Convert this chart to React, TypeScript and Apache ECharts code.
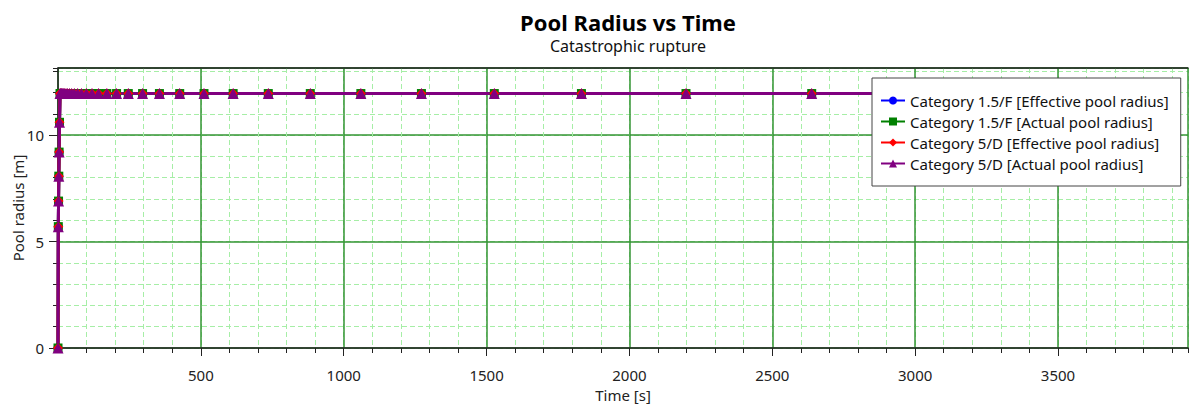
import React, { useEffect, useRef } from "react";
import * as echarts from "echarts";

const FONT = "'Noto Sans', 'Open Sans', sans-serif";

const seriesNames = [
  "Category 1.5/F [Effective pool radius]",
  "Category 1.5/F [Actual pool radius]",
  "Category 5/D [Effective pool radius]",
  "Category 5/D [Actual pool radius]",
];
const seriesColors = ["#0000ff", "#008000", "#ff0000", "#800080"];
const seriesSymbols = ["circle", "rect", "diamond", "triangle"];
const seriesSymbolSizes = [9, 9, 10, 11];

const timeS = [
  0, 1.1, 1.9, 2.8, 3.9, 5.3, 7, 9, 11, 13, 16, 19, 23, 28, 33, 40, 48, 57, 69, 82, 99, 119, 142,
  171, 205, 246, 296, 355, 426, 511, 613, 736, 883, 1060, 1272, 1527, 1832, 2198, 2638, 3166, 3799,
];
const effRadius15F = [
  0, 5.7, 6.9, 8.07, 9.2, 10.6, 11.95, 11.95, 11.95, 11.95, 11.95, 11.95, 11.95, 11.95, 11.95,
  11.95, 11.95, 11.95, 11.95, 11.95, 11.95, 11.95, 11.95, 11.95, 11.95, 11.95, 11.95, 11.95, 11.95,
  11.95, 11.95, 11.95, 11.95, 11.95, 11.95, 11.95, 11.95, 11.95, 11.95, 11.95, 11.95,
];
const actRadius15F = [
  0, 5.7, 6.9, 8.07, 9.2, 10.6, 11.95, 11.95, 11.95, 11.95, 11.95, 11.95, 11.95, 11.95, 11.95,
  11.95, 11.95, 11.95, 11.95, 11.95, 11.95, 11.95, 11.95, 11.95, 11.95, 11.95, 11.95, 11.95, 11.95,
  11.95, 11.95, 11.95, 11.95, 11.95, 11.95, 11.95, 11.95, 11.95, 11.95, 11.95, 11.95,
];
const effRadius5D = [
  0, 5.7, 6.9, 8.07, 9.2, 10.6, 11.95, 11.95, 11.95, 11.95, 11.95, 11.95, 11.95, 11.95, 11.95,
  11.95, 11.95, 11.95, 11.95, 11.95, 11.95, 11.95, 11.95, 11.95, 11.95, 11.95, 11.95, 11.95, 11.95,
  11.95, 11.95, 11.95, 11.95, 11.95, 11.95, 11.95, 11.95, 11.95, 11.95, 11.95, 11.95,
];
const actRadius5D = [
  0, 5.7, 6.9, 8.07, 9.2, 10.6, 11.95, 11.95, 11.95, 11.95, 11.95, 11.95, 11.95, 11.95, 11.95,
  11.95, 11.95, 11.95, 11.95, 11.95, 11.95, 11.95, 11.95, 11.95, 11.95, 11.95, 11.95, 11.95, 11.95,
  11.95, 11.95, 11.95, 11.95, 11.95, 11.95, 11.95, 11.95, 11.95, 11.95, 11.95, 11.95,
];
const radiusSets = [effRadius15F, actRadius15F, effRadius5D, actRadius5D];

const X_MAX = 3955;
const Y_MAX = 13.15;

export default function App() {
  const ref = useRef<HTMLDivElement>(null);
  useEffect(() => {
    if (!ref.current) return;
    const chart = echarts.init(ref.current, null, { renderer: "svg" });
    const axisColor = "#222";
    const series = seriesNames.map((name, i) => ({
      name,
      type: "line",
      xAxisIndex: 1,
      yAxisIndex: 1,
      data: timeS.map((t, k) => [t, radiusSets[i][k]]),
      symbol: seriesSymbols[i],
      symbolSize: seriesSymbolSizes[i],
      showSymbol: true,
      color: seriesColors[i],
      lineStyle: { color: seriesColors[i], width: 3 },
      itemStyle: { color: seriesColors[i] },
      z: 2,
      zlevel: 0,
    }));
    chart.setOption({
      animation: false,
      textStyle: { fontFamily: FONT },
      title: {
        text: "Pool Radius vs Time",
        subtext: "Catastrophic rupture",
        left: 623,
        textAlign: "center",
        top: 6,
        itemGap: 5,
        textStyle: { fontSize: 22, fontWeight: "bold", color: "#000", fontFamily: FONT },
        subtextStyle: { fontSize: 16, color: "#111", fontFamily: FONT },
      },
      grid: {
        left: 58,
        right: 1,
        top: 68,
        bottom: 57,
        containLabel: false,
        outerBoundsMode: "none",
      },
      legend: {
        orient: "vertical",
        left: 872,
        top: 78,
        z: 20,
        backgroundColor: "#fff",
        borderColor: "#444",
        borderWidth: 1,
        padding: [14, 12, 14, 8],
        itemGap: 4,
        itemWidth: 24,
        itemHeight: 10,
        textStyle: { fontSize: 15, lineHeight: 17, color: "#111", fontFamily: FONT },
        data: seriesNames,
      },
      xAxis: [
        {
          type: "value",
          min: 0,
          max: X_MAX,
          interval: 100,
          position: "bottom",
          axisLine: { show: false, onZero: false },
          axisTick: { show: true, length: 5, lineStyle: { color: axisColor } },
          axisLabel: { show: false },
          splitLine: { show: true, lineStyle: { color: "#a6eea6", type: [5, 3], width: 1 } },
        },
        {
          type: "value",
          min: 0,
          max: X_MAX,
          interval: 500,
          position: "bottom",
          name: "Time [s]",
          nameLocation: "middle",
          nameGap: 39,
          nameMoveOverlap: false,
          nameTextStyle: { fontSize: 15, color: axisColor, fontFamily: FONT },
          axisLine: { show: true, onZero: false, lineStyle: { color: axisColor, width: 1.5 } },
          axisTick: { show: true, length: 8, lineStyle: { color: axisColor } },
          axisLabel: {
            fontSize: 15,
            color: axisColor,
            margin: 19,
            showMinLabel: false,
            showMaxLabel: false,
            formatter: (v: number) => (v % 500 === 0 && v > 0 ? String(v) : ""),
          },
          splitLine: { show: true, lineStyle: { color: "#359535", width: 1.5 } },
        },
        {
          type: "value",
          min: 0,
          max: X_MAX,
          position: "top",
          axisLine: { show: true, onZero: false, lineStyle: { color: axisColor, width: 1.5 } },
          axisTick: { show: false },
          axisLabel: { show: false },
          splitLine: { show: false },
        },
      ],
      yAxis: [
        {
          type: "value",
          min: 0,
          max: Y_MAX,
          interval: 1,
          position: "left",
          offset: 0,
          axisLine: { show: false, onZero: false },
          axisTick: { show: true, length: 5, lineStyle: { color: axisColor } },
          axisLabel: { show: false },
          splitLine: { show: true, lineStyle: { color: "#a6eea6", type: [5, 3], width: 1 } },
        },
        {
          type: "value",
          min: 0,
          max: Y_MAX,
          interval: 5,
          position: "left",
          offset: 0,
          name: "Pool radius [m]",
          nameLocation: "middle",
          nameGap: 33,
          nameMoveOverlap: false,
          nameTextStyle: { fontSize: 15, color: axisColor, fontFamily: FONT },
          axisLine: { show: true, onZero: false, lineStyle: { color: axisColor, width: 1.5 } },
          axisTick: { show: true, length: 9, lineStyle: { color: axisColor } },
          axisLabel: {
            fontSize: 15,
            color: axisColor,
            margin: 14,
            showMaxLabel: false,
            formatter: (v: number) => (v % 5 === 0 ? String(v) : ""),
          },
          splitLine: { show: true, lineStyle: { color: "#359535", width: 1.5 } },
        },
      ],
      series,
    });
    return () => chart.dispose();
  }, []);
  return (
    <div
      ref={ref}
      style={{ position: "absolute", left: 0, top: 0, width: 1189, height: 405, background: "#fff" }}
    />
  );
}
